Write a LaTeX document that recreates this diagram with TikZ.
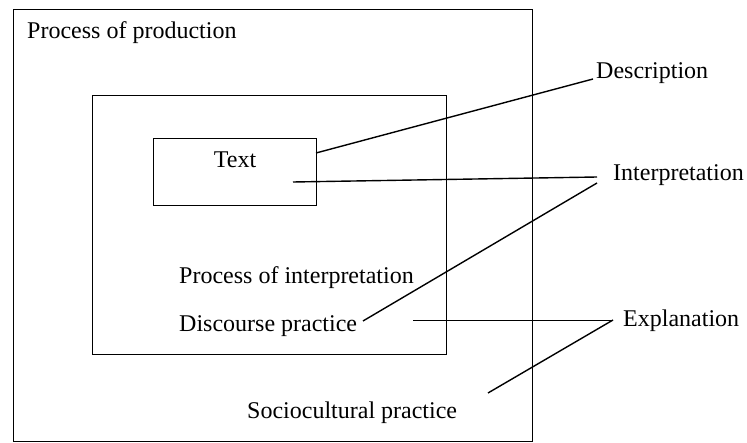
\documentclass[tikz,border=0pt]{standalone}
\usepackage{fontspec}
\setmainfont{Liberation Serif}
\usetikzlibrary{positioning}

\begin{document}
\begin{tikzpicture}[x=1pt,y=-1pt,
  lbl/.style={inner sep=0pt,font=\fontsize{24}{28}\selectfont},
  frame/.style={draw,line width=0.9pt},
  link/.style={line width=1.4pt},
  thinlink/.style={line width=0.6pt}]
  \useasboundingbox (0,0) rectangle (747,443);
  \draw[frame] (13,9) rectangle (532,441);
  \draw[frame] (92,95) rectangle (446,354);
  \node[frame,minimum width=163pt,minimum height=67pt,anchor=north west] (txtbox) at (153,138) {};
  \node[lbl,anchor=base west] (prod) at (27,39) {Process of production};
  \node[lbl,anchor=base] (txt) at (235,168) {Text};
  \node[lbl,anchor=base west] (interp) at (179,284) {Process of interpretation};
  \node[lbl,anchor=base west] (disc) at (179,332) {Discourse practice};
  \node[lbl,anchor=base west] (socio) at (247,418) {Sociocultural practice};
  \node[lbl,anchor=base west] (desc) at (596,79) {Description};
  \node[lbl,anchor=base west] (interpr) at (613,181) {Interpretation};
  \node[lbl,anchor=base west] (expl) at (623,327) {Explanation};
  \coordinate (d1) at (316,153);
  \coordinate (d2) at (593,79);
  \coordinate (i1) at (293,182);
  \coordinate (i2) at (597,177);
  \coordinate (i3) at (363,321);
  \coordinate (i4) at (597,183);
  \coordinate (e1) at (413,320);
  \coordinate (e2) at (613,320);
  \coordinate (e3) at (488,393);
  \draw[link] (d1) -- (d2);
  \draw[link] (i1) -- (i2);
  \draw[link] (i3) -- (i4);
  \draw[thinlink] (e1) -- (e2);
  \draw[link] (e3) -- (e2);
\end{tikzpicture}
\end{document}
